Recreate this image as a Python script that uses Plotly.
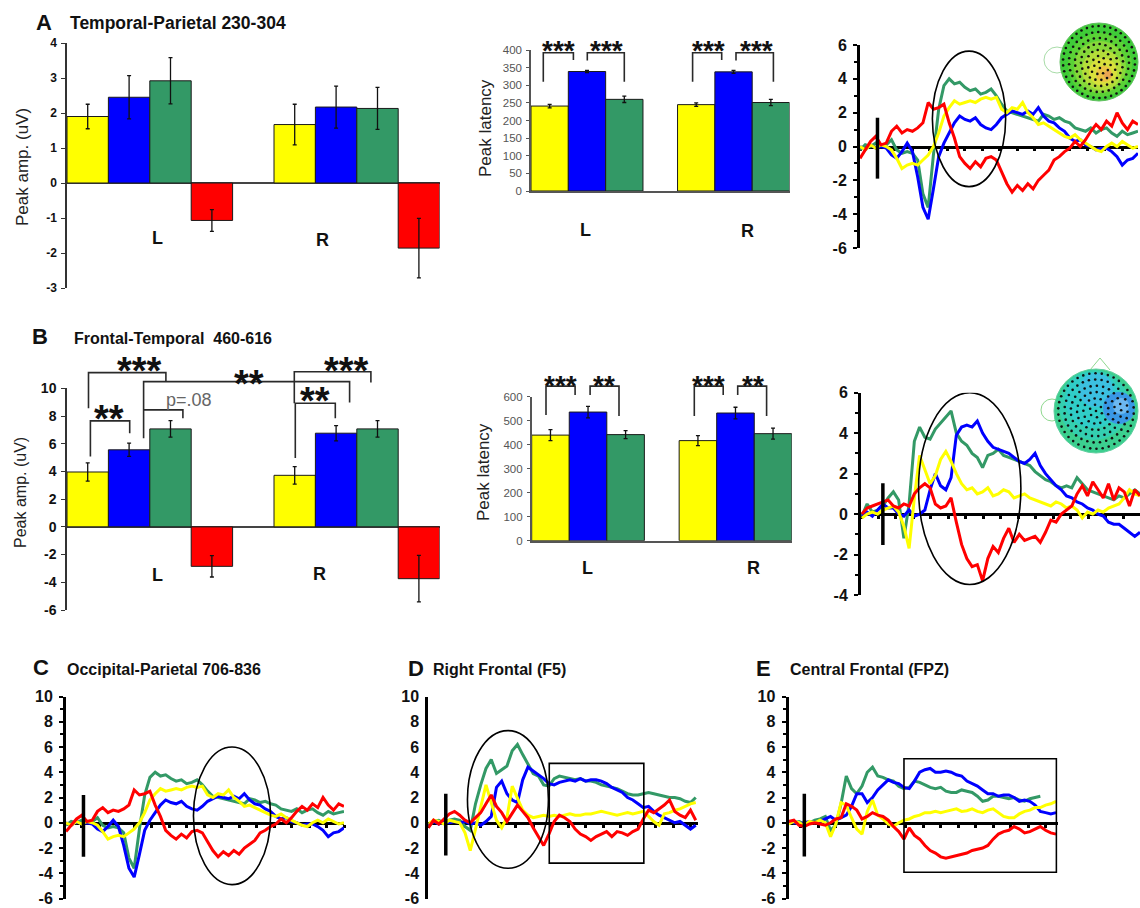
import math
import plotly.graph_objects as go

W, H = 1140, 908
FONT = "Arial, 'Liberation Sans', Helvetica, sans-serif"

# ---------------- data ----------------
COND_COLORS = ["#FFFF00", "#0000FF", "#339966", "#FF0000"]   # yellow, blue, green, red
HEMIS = ["L", "R"]

# Panel A (Temporal-Parietal 230-304)
AMP_A_L = [1.90, 2.45, 2.92, -1.07]
AMP_A_R = [1.67, 2.17, 2.13, -1.86]
AMP_A_L_ERR = [0.35, 0.62, 0.66, 0.31]
AMP_A_R_ERR = [0.58, 0.60, 0.60, 0.85]
LAT_A_L = [241, 339, 260]
LAT_A_R = [245, 338, 251]
LAT_A_L_ERR = [5, 3, 9]
LAT_A_R_ERR = [5, 4, 9]

# Panel B (Frontal-Temporal 460-616)
AMP_B_L = [3.96, 5.56, 7.07, -2.85]
AMP_B_R = [3.72, 6.76, 7.07, -3.74]
AMP_B_L_ERR = [0.66, 0.48, 0.59, 0.77]
AMP_B_R_ERR = [0.63, 0.55, 0.59, 1.68]
LAT_B_L = [440, 536, 442]
LAT_B_R = [417, 532, 446]
LAT_B_L_ERR = [23, 24, 17]
LAT_B_R_ERR = [21, 24, 23]

# Waveforms (uV), sampled every 30 ms
T_A = list(range(-100, 1491, 30))
WAVE_A_GREEN = [-0.2, 0.1, 0.0, 0.2, 0.0, 0.1, 0.4, -0.2, -0.4, -0.3,
                -0.4, -0.8, -2.8, -3.6, -0.5, 2.2, 3.6, 4.0, 3.7, 3.8,
                3.5, 3.3, 3.4, 3.1, 3.2, 3.4, 3.0, 2.5, 2.1, 2.0,
                1.9, 1.8, 1.7, 1.6, 1.5, 1.9, 1.8, 1.6, 1.7, 1.5,
                1.4, 1.1, 1.0, 0.9, 1.1, 0.8, 1.0, 1.1, 0.8, 0.6,
                0.9, 0.7, 0.8, 0.9]
WAVE_A_BLUE = [0.0, -0.2, 0.1, -0.1, 0.0, -0.1, -0.5, -0.7, -0.3, 0.2,
               -0.3, -1.8, -3.6, -4.3, -2.5, -0.6, 0.2, 0.8, 1.4, 1.8,
               1.6, 1.5, 1.7, 1.3, 1.1, 1.0, 1.3, 1.7, 1.9, 2.1,
               2.0, 1.9, 2.1, 1.9, 2.3, 1.8, 1.5, 1.4, 1.1, 0.9,
               0.5, 0.3, 0.4, 0.1, 0.0, -0.2, -0.1, -0.1, -0.3, -0.6,
               -1.1, -0.8, -0.7, -0.4]
WAVE_A_YELLOW = [0.0, -0.2, 0.1, -0.1, 0.1, 0.0, -0.2, -0.7, -1.3, -1.1,
                 -1.0, -1.1, -0.8, -0.5, 0.0, 0.8, 1.8, 2.3, 2.7, 2.5,
                 2.6, 2.7, 2.6, 2.8, 2.9, 2.8, 2.9, 2.2, 2.0, 2.3,
                 2.2, 2.6, 2.0, 1.7, 1.3, 1.4, 1.2, 1.0, 0.8, 0.6,
                 0.5, 0.7, 0.4, 0.2, 0.0, -0.2, -0.3, 0.0, 0.2, 0.0,
                 0.3, 0.1, -0.1, 0.0]
WAVE_A_RED = [-0.7, -0.2, 0.3, 0.6, 0.1, 0.2, 0.9, 1.2, 0.8, 1.0,
              0.9, 1.1, 1.4, 2.6, 2.2, 2.3, 2.5, 1.4, 0.5, -0.6,
              -1.0, -1.3, -0.9, -1.2, -0.7, -0.6, -0.8, -1.5, -2.2, -2.7,
              -2.3, -2.6, -2.2, -2.5, -2.0, -1.7, -1.4, -0.8, -0.6, -0.3,
              -0.1, 0.3, 0.0, 0.4, 0.9, 1.3, 1.0, 1.5, 1.2, 2.0,
              1.4, 1.0, 1.5, 1.3]

T_B = list(range(-120, 1471, 30))
WAVE_B_GREEN = [-0.1, 0.5, 0.1, 0.2, 0.4, 0.8, 1.1, 0.7, -1.2, 0.5,
                3.6, 4.3, 3.8, 3.7, 4.2, 4.5, 4.8, 5.1, 4.0, 3.6,
                3.4, 3.0, 2.8, 2.3, 2.9, 3.0, 3.2, 2.9, 2.8, 2.7,
                2.6, 2.5, 2.4, 2.1, 1.9, 1.7, 1.6, 1.4, 1.3, 1.4,
                1.3, 1.8, 1.5, 1.2, 1.1, 1.0, 0.9, 0.8, 0.7, 0.9,
                0.8, 1.0, 1.2, 1.0]
WAVE_B_BLUE = [-0.1, 0.1, -0.1, 0.2, 0.5, 0.3, 0.3, 0.0, -0.1, 0.2,
               -0.1, 0.0, 0.2, 1.2, 2.0, 1.4, 1.2, 1.8, 3.9, 4.3,
               4.4, 4.3, 4.6, 4.0, 3.6, 3.3, 3.2, 3.1, 3.0, 2.8,
               2.6, 2.5, 2.7, 3.0, 2.4, 2.0, 1.7, 1.4, 1.2, 0.9,
               0.8, 0.6, 0.5, 0.3, 0.2, 0.0, -0.1, -0.4, -0.5, -0.5,
               -0.7, -0.9, -1.1, -0.9]
WAVE_B_YELLOW = [-0.2, 0.0, 0.1, 0.0, 0.2, 0.3, 0.4, 0.1, -0.6, -1.7,
                 0.8, 2.9, 2.2, 1.5, 1.9, 2.7, 3.1, 2.6, 2.0, 1.5,
                 1.2, 1.3, 1.0, 1.1, 1.3, 0.9, 1.0, 1.2, 1.1, 0.8,
                 0.9, 1.0, 0.8, 0.7, 0.6, 0.5, 0.4, 0.6, 0.5, 0.3,
                 0.4, 0.2, -0.2, 0.1, 0.0, 0.2, 0.1, 0.3, 0.4, 0.5,
                 0.8, 1.2, 1.0, 0.9]
WAVE_B_RED = [0.0, 0.3, 0.4, 0.5, 0.6, 0.7, 0.4, 0.3, 0.5, 0.4,
              1.0, 1.3, 1.5, 1.3, 0.5, 0.3, 0.4, 0.8, -0.4, -1.5,
              -2.2, -2.6, -2.5, -3.3, -2.2, -1.6, -1.9, -1.2, -0.7, -1.4,
              -1.0, -1.3, -1.2, -1.1, -1.4, -0.9, -0.3, -0.4, 0.0, 0.2,
              0.4, 1.0, 1.4, 0.9, 1.6, 1.2, 0.8, 1.5, 0.7, 1.3,
              1.1, 0.4, 1.2, 0.9]

T_D = list(range(-100, 1431, 30))
WAVE_D_GREEN = [-0.3, 0.1, 0.2, 0.0, 0.2, 0.3, 0.2, -0.3, -0.6, 1.5,
                3.0, 4.3, 5.0, 3.9, 4.2, 4.5, 5.7, 6.2, 5.4, 4.7,
                3.9, 3.7, 3.0, 2.9, 3.5, 3.7, 3.6, 3.5, 3.4, 3.5,
                3.3, 3.3, 3.2, 3.0, 2.9, 2.8, 2.7, 2.5, 2.3, 2.2,
                2.2, 2.3, 2.4, 2.3, 2.2, 2.1, 2.0, 2.0, 1.9, 1.7,
                1.6, 2.0]
WAVE_D_BLUE = [-0.2, 0.1, -0.1, 0.1, 0.0, 0.1, 0.0, 0.1, -0.1, 0.0,
               -0.2, 0.1, 0.5, 2.8, 3.3, 2.3, 1.8, 1.6, 3.4, 4.4,
               4.1, 3.8, 3.5, 3.1, 3.0, 3.2, 3.3, 3.4, 3.3, 3.5,
               3.3, 3.4, 3.4, 3.3, 3.1, 2.8, 2.6, 2.4, 2.0, 1.8,
               1.5, 1.2, 1.3, 0.9, 0.6, 0.4, 0.2, 0.0, 0.1, -0.2,
               -0.5, -0.2]
WAVE_D_YELLOW = [-0.1, 0.2, 0.1, -0.1, 0.2, 0.1, 0.0, -0.8, -2.2, -0.5,
                 1.2, 3.0, 1.6, 0.2, -0.4, 0.4, 2.9, 2.0, 1.0, 0.6,
                 0.4, 0.5, 0.6, 0.5, 0.6, 0.5, 0.6, 0.7, 0.6, 0.6,
                 0.7, 0.7, 0.8, 0.9, 0.8, 0.7, 0.6, 0.7, 0.8, 0.7,
                 0.8, 0.9, 0.5, 0.1, -0.2, 0.7, 0.8, 1.0, 1.1, 1.3,
                 1.5, 1.6]
WAVE_D_RED = [-0.4, 0.2, -0.1, 0.3, 0.7, 0.9, 0.6, 0.2, 0.0, 0.4,
              0.8, 1.5, 2.2, 1.3, 0.8, 0.1, 0.8, 1.4, 0.9, 0.4,
              -0.4, -1.1, -1.8, -0.9, 0.1, 0.6, 0.4, 0.1, -0.5, -0.9,
              -1.1, -1.4, -1.1, -0.9, -0.7, -1.1, -0.7, -0.8, -1.0, -0.7,
              -0.5, 0.3, 1.0, 0.8, 1.1, 1.4, 1.8, 0.9, 0.6, 0.4,
              1.0, 0.2]

T_E = list(range(-90, 1441, 30))
WAVE_E_GREEN = [0.1, 0.0, 0.1, -0.1, 0.0, 0.2, 0.3, 0.5, -0.6, -0.2,
                1.5, 3.7, 2.7, 2.3, 2.9, 4.0, 4.4, 3.7, 3.6, 3.4,
                3.3, 2.9, 2.7, 2.8, 3.3, 3.2, 3.0, 2.8, 2.7, 2.8,
                2.5, 2.4, 2.4, 2.6, 2.5, 2.4, 2.1, 1.7, 1.8, 2.1,
                2.1, 2.0, 1.9, 2.0, 1.8, 1.7, 1.9, 2.0, 2.1, None,
                None, None]
WAVE_E_BLUE = [0.1, 0.0, -0.1, 0.0, 0.1, 0.0, 0.1, 0.3, 0.5, 0.2,
               0.4, 0.6, 1.3, 2.3, 2.3, 1.6, 2.0, 2.6, 3.0, 3.4,
               3.2, 3.1, 2.8, 2.7, 3.3, 4.0, 4.2, 4.3, 4.0, 4.0,
               4.1, 4.0, 3.8, 3.7, 3.3, 3.1, 2.9, 2.6, 2.3, 2.3,
               2.1, 2.2, 2.2, 2.0, 1.7, 1.8, 1.7, 1.4, 0.9, 0.8,
               0.7, 0.8]
WAVE_E_YELLOW = [-0.1, 0.1, 0.0, -0.2, 0.1, 0.0, 0.2, 0.0, -1.1, -0.1,
                 1.6, 1.4, 0.4, -0.5, -0.9, 0.9, 1.8, 0.6, 0.3, -0.1,
                 -0.3, 0.0, 0.2, 0.3, 0.5, 0.6, 0.8, 0.8, 0.9, 0.8,
                 0.9, 1.0, 1.1, 0.9, 0.95, 1.1, 0.9, 0.8, 1.0, 1.1,
                 0.8, 0.5, 0.4, 0.4, 0.7, 0.9, 1.0, 1.2, 1.2, 1.4,
                 1.5, 1.7]
WAVE_E_RED = [0.1, 0.2, -0.2, -0.3, -0.1, 0.0, -0.1, -0.2, 0.0, 0.3,
              0.4, 1.5, 1.3, 1.0, 0.3, 0.5, 0.8, 0.6, 0.5, 0.2,
              -0.3, -0.7, -1.3, -0.4, -1.0, -1.3, -1.8, -2.2, -2.4, -2.7,
              -2.8, -2.7, -2.6, -2.5, -2.4, -2.2, -2.1, -2.0, -1.8, -1.3,
              -0.9, -0.7, -0.6, -0.3, -0.5, -0.8, -0.7, -0.5, -0.3, -0.6,
              -0.8, -0.9]

# ---------------- layout geometry (pixels) ----------------
PANELS = {
    1: dict(px=(67, 439.6), py=(43, 288), xr=(-0.4, 1.4), yr=(-3, 4)),
    2: dict(px=(531, 789.5), py=(50, 191), xr=(-0.382, 1.382), yr=(0, 400)),
    3: dict(px=(860, 1138), py=(45, 248), xr=(-100, 1490), yr=(-6, 6)),
    4: dict(px=(67, 439.6), py=(388.3, 610), xr=(-0.4, 1.4), yr=(-6, 10)),
    5: dict(px=(531.7, 791.8), py=(396.7, 540.7), xr=(-0.382, 1.382), yr=(0, 600)),
    6: dict(px=(861, 1140), py=(392.7, 595), xr=(-125, 1470), yr=(-4, 6)),
    7: dict(px=(66, 344), py=(696.5, 898.5), xr=(-100, 1490), yr=(-6, 10)),
    8: dict(px=(428.3, 697.5), py=(696.5, 898.5), xr=(-100, 1440), yr=(-6, 10)),
    9: dict(px=(788.6, 1057.8), py=(696.5, 898.5), xr=(-90, 1450), yr=(-6, 10)),
}


def to_px(p, x, y):
    P = PANELS[p]
    (a, b), (t, btm) = P["px"], P["py"]
    (x0, x1), (y0, y1) = P["xr"], P["yr"]
    return (a + (x - x0) / (x1 - x0) * (b - a),
            btm - (y - y0) / (y1 - y0) * (btm - t))


def ticks_for(p, step):
    lo, hi = PANELS[p]["yr"]
    vals = list(range(int(lo), int(hi) + 1, step))
    return vals, [f"{v:d}" for v in vals]


fig = go.Figure()


def add_bars(p, Ls, Rs, Le, Re, n, width, off0):
    for i in range(n):
        fig.add_trace(go.Bar(
            x=[0, 1], y=[Ls[i], Rs[i]], width=width, offset=off0 + i * width,
            marker=dict(color=COND_COLORS[i], line=dict(color="#1a1a1a", width=1)),
            error_y=dict(type="data", array=[Le[i], Re[i]], visible=True,
                         color="#111", thickness=1.3, width=2),
            xaxis=f"x{p}", yaxis=f"y{p}", showlegend=False, hoverinfo="skip"))


add_bars(1, AMP_A_L, AMP_A_R, AMP_A_L_ERR, AMP_A_R_ERR, 4, 0.2, -0.4)
add_bars(2, LAT_A_L, LAT_A_R, LAT_A_L_ERR, LAT_A_R_ERR, 3, 0.2547, -0.382)
add_bars(4, AMP_B_L, AMP_B_R, AMP_B_L_ERR, AMP_B_R_ERR, 4, 0.2, -0.4)
add_bars(5, LAT_B_L, LAT_B_R, LAT_B_L_ERR, LAT_B_R_ERR, 3, 0.2547, -0.382)


def add_wave(p, T, green, blue, yellow, red):
    for vals, col in ((green, COND_COLORS[2]), (blue, COND_COLORS[1]),
                      (yellow, COND_COLORS[0]), (red, COND_COLORS[3])):
        fig.add_trace(go.Scatter(
            x=T[:len(vals)], y=vals, mode="lines",
            line=dict(color=col, width=3), connectgaps=False,
            xaxis=f"x{p}", yaxis=f"y{p}", showlegend=False, hoverinfo="skip"))


add_wave(3, T_A, WAVE_A_GREEN, WAVE_A_BLUE, WAVE_A_YELLOW, WAVE_A_RED)
add_wave(6, T_B, WAVE_B_GREEN, WAVE_B_BLUE, WAVE_B_YELLOW, WAVE_B_RED)
add_wave(7, T_A, WAVE_A_GREEN, WAVE_A_BLUE, WAVE_A_YELLOW, WAVE_A_RED)
add_wave(8, T_D, WAVE_D_GREEN, WAVE_D_BLUE, WAVE_D_YELLOW, WAVE_D_RED)
add_wave(9, T_E, WAVE_E_GREEN, WAVE_E_BLUE, WAVE_E_YELLOW, WAVE_E_RED)

# ---------------- axes ----------------
layout = {}
for p, P in PANELS.items():
    xd = [P["px"][0] / W, P["px"][1] / W]
    yd = [1 - P["py"][1] / H, 1 - P["py"][0] / H]
    layout[f"xaxis{p}"] = dict(domain=xd, range=list(P["xr"]), anchor=f"y{p}",
                               showgrid=False, zeroline=False, showticklabels=False,
                               ticks="", fixedrange=True)
    layout[f"yaxis{p}"] = dict(domain=yd, range=list(P["yr"]), anchor=f"x{p}",
                               showgrid=False, zeroline=False, fixedrange=True)

# amplitude bar panels
for p, dt, fs in ((1, 1, 12), (4, 2, 14)):
    tv, tt = ticks_for(p, dt)
    layout[f"xaxis{p}"].update(visible=False)
    layout[f"yaxis{p}"].update(showline=True, linecolor="#333", linewidth=1.5,
                               ticks="outside", ticklen=4, tickcolor="#333",
                               tickmode="array", tickvals=tv, ticktext=tt,
                               zeroline=True, zerolinecolor="#444", zerolinewidth=1.5,
                               ticklabelstandoff=2,
                               tickfont=dict(family=FONT, size=fs, color="#111", weight="bold"))
# latency bar panels
for p, dt in ((2, 50), (5, 100)):
    tv, tt = ticks_for(p, dt)
    layout[f"xaxis{p}"].update(showline=True, linecolor="#555", linewidth=2)
    layout[f"yaxis{p}"].update(showline=True, linecolor="#555", linewidth=1.5,
                               ticks="outside", ticklen=3, tickcolor="#555",
                               tickmode="array", tickvals=tv, ticktext=tt,
                               ticklabelstandoff=2,
                               tickfont=dict(family=FONT, size=11.5, color="#555"))
# waveform panels
WAVE_TICK0 = {3: 0, 6: 75, 7: 90, 8: 0, 9: 80}
for p in (3, 6, 7, 8, 9):
    y0px = to_px(p, 0, 0)[1]
    layout[f"xaxis{p}"].update(anchor="free", position=1 - y0px / H, showline=True,
                               linecolor="black", linewidth=2.5, ticks="outside",
                               ticklen=3, tickwidth=3, tickcolor="black",
                               tick0=WAVE_TICK0[p], dtick=100, layer="below traces")
    tv, tt = ticks_for(p, 2)
    mv, _ = ticks_for(p, 1)
    ya = dict(showline=True, linecolor="black", linewidth=3,
              tickmode="array", tickvals=tv, ticktext=tt,
              tickfont=dict(family=FONT, size=16, color="#111", weight="bold"),
              ticklabelstandoff=3)
    if p != 8:
        ya.update(ticks="outside", ticklen=4, tickwidth=2, tickcolor="black",
                  minor=dict(tickmode="array", tickvals=mv, ticks="outside", ticklen=3,
                             tickwidth=2, tickcolor="black", showgrid=False))
    else:
        ya.update(ticks="")
    layout[f"yaxis{p}"].update(**ya)

# overlay pixel-space axis for decorations / text
layout["xaxis10"] = dict(domain=[0, 1], range=[0, W], anchor="y10", visible=False, fixedrange=True)
layout["yaxis10"] = dict(domain=[0, 1], range=[H, 0], anchor="x10", visible=False, fixedrange=True)

shapes = []
annotations = []


def txt(x, y, s, size, bold=False, color="#111", xanchor="center", angle=0):
    annotations.append(dict(
        x=x, y=y, xref="x10", yref="y10", text=s, showarrow=False,
        xanchor=xanchor, yanchor="middle", textangle=angle,
        font=dict(family=FONT, size=size, color=color, weight="bold" if bold else "normal")))


# panel letters and titles
for letter, lx, ly, title, tx, ty, tsz in (
        ("A", 44, 22, "Temporal-Parietal 230-304", 68, 23, 17.5),
        ("B", 40, 336, "Frontal-Temporal  460-616", 72, 338, 16),
        ("C", 41, 667, "Occipital-Parietal 706-836", 65, 669, 16),
        ("D", 416, 668, "Right Frontal (F5)", 431, 669, 16),
        ("E", 763, 668, "Central Frontal (FPZ)", 788, 669, 16)):
    txt(lx, ly, letter, 22, bold=True)
    txt(tx, ty, title, tsz, bold=True, xanchor="left")

# axis titles
txt(22, 167, "Peak amp. (uV)", 17, color="#222", angle=-90)
txt(20, 493, "Peak amp. (uV)", 16, color="#222", angle=-90)
txt(485, 128, "Peak latency", 17, color="#222", angle=-90)
txt(483, 472, "Peak latency", 17, color="#222", angle=-90)

# hemisphere labels
for (x, y), lab in zip(((157, 238), (322, 240)), HEMIS):
    txt(x, y, lab, 18, bold=True)
for (x, y), lab in zip(((157, 575), (319, 574)), HEMIS):
    txt(x, y, lab, 18, bold=True)
for (x, y), lab in zip(((585, 230), (747, 231)), HEMIS):
    txt(x, y, lab, 18, bold=True)
for (x, y), lab in zip(((587, 568), (753, 568)), HEMIS):
    txt(x, y, lab, 18, bold=True)

# significance brackets: panel, x_left, x_right, y_left_end, y_right_end, y_top
BRACKETS = [
    (2, -0.298, -0.093, 310, 372, 392), (2, 0.002, 0.255, 370, 310, 392),
    (2, 0.721, 0.919, 310, 372, 392), (2, 1.017, 1.272, 370, 310, 392),
    (5, -0.285, -0.088, 524, 607, 644), (5, 0.014, 0.21, 607, 519, 644),
    (5, 0.721, 0.917, 519, 607, 644), (5, 1.015, 1.211, 607, 519, 644),
    (4, -0.296, 0.078, 8.56, 10.48, 11.13), (4, -0.03, 0.965, 6.40, 8.97, 10.48),
    (4, -0.287, -0.097, 5.08, 6.76, 7.65), (4, -0.03, 0.16, 8.44, 7.84, 8.44),
    (4, 0.698, 1.068, 8.92, 10.41, 11.2), (4, 0.703, 0.896, 4.96, 7.84, 8.92),
]
for p, xl, xr, yl, yr, yt in BRACKETS:
    ax, ayl = to_px(p, xl, yl)
    bx, ayr = to_px(p, xr, yr)
    _, at = to_px(p, xl, yt)
    shapes.append(dict(type="path", xref="x10", yref="y10",
                       path=f"M {ax:.1f} {ayl:.1f} L {ax:.1f} {at:.1f} L {bx:.1f} {at:.1f} L {bx:.1f} {ayr:.1f}",
                       line=dict(color="#2a2a2a", width=1.6), layer="above"))

STARS = [
    (2, -0.196, 414, "***", 28), (2, 0.134, 414, "***", 28),
    (2, 0.828, 414, "***", 28), (2, 1.158, 414, "***", 28),
    (5, -0.19, 669, "***", 28), (5, 0.108, 669, "**", 28),
    (5, 0.816, 669, "***", 28), (5, 1.116, 669, "**", 28),
    (4, -0.05, 11.8, "***", 38), (4, 0.477, 10.84, "**", 38),
    (4, 0.948, 11.8, "***", 38), (4, -0.199, 8.31, "**", 38),
    (4, 0.8, 9.64, "**", 38),
]
for p, x, y, s, fs in STARS:
    X, Y = to_px(p, x, y)
    txt(X, Y + 0.2 * fs, s, fs, bold=True, color="#111")
X, Y = to_px(4, 0.187, 9.16)
txt(X, Y, "p=.08", 18, color="#666")

# stimulus-onset bars, ellipses and rectangles (data coordinates)
ONSET = {3: (-1.9, 1.7), 6: (-1.53, 1.52), 7: (-2.7, 2.2), 8: (-2.6, 2.3), 9: (-2.67, 2.3)}
for p, (lo, hi) in ONSET.items():
    shapes.append(dict(type="line", xref=f"x{p}", yref=f"y{p}", x0=0, x1=0, y0=lo, y1=hi,
                       line=dict(color="black", width=3.5), layer="above"))
ELLIPSES = {3: (314, 733, -2.37, 5.64), 6: (204, 789, -3.48, 6.0),
            7: (629, 1070, -4.9, 6.0), 8: (124, 587, -3.6, 7.3)}
for p, (x0, x1, y0, y1) in ELLIPSES.items():
    shapes.append(dict(type="circle", xref=f"x{p}", yref=f"y{p}", x0=x0, x1=x1, y0=y0, y1=y1,
                       line=dict(color="black", width=1.6), layer="above"))
RECTS = {8: (592, 1133, -3.2, 4.7), 9: (570, 1442, -3.92, 5.07)}
for p, (x0, x1, y0, y1) in RECTS.items():
    shapes.append(dict(type="rect", xref=f"x{p}", yref=f"y{p}", x0=x0, x1=x1, y0=y0, y1=y1,
                       line=dict(color="black", width=1.6), layer="above"))


# ---------------- scalp maps (decorative insets) ----------------
def circ(cx, cy, r, fill=None, line=None, lw=0):
    shapes.append(dict(type="circle", xref="x10", yref="y10",
                       x0=cx - r, x1=cx + r, y0=cy - r, y1=cy + r,
                       fillcolor=fill if fill else "rgba(0,0,0,0)",
                       line=dict(color=line if line else "rgba(0,0,0,0)", width=lw),
                       layer="below"))


def electrodes(cx, cy, r, spacing):
    xs, ys = [], []
    ring = 0
    while ring * spacing <= r:
        rr = ring * spacing
        n = 1 if ring == 0 else int(round(2 * math.pi * rr / spacing))
        for k in range(n):
            ang = 2 * math.pi * k / n + ring * 0.37
            xs.append(cx + rr * math.cos(ang))
            ys.append(cy + rr * math.sin(ang))
        ring += 1
    return xs, ys


# head A
circ(1057, 60, 13, line="#a8dca8", lw=1)
circ(1099, 62, 39, fill="#3fcc38", line="#5fbf5f", lw=1)
circ(1100, 65, 32, fill="#5ad236")
circ(1100, 67, 26, fill="#86d83a")
circ(1102, 70, 20, fill="#b4de3a")
circ(1103, 72, 14, fill="#d8e03c")
circ(1104, 74, 8, fill="#ecc445")
circ(1108, 75, 4, fill="#eaa552")
# head B
shapes.append(dict(type="path", xref="x10", yref="y10",
                   path="M 1090 370 L 1100 358 L 1110 370", line=dict(color="#8fd88f", width=1),
                   layer="below"))
circ(1052, 410, 11, line="#8fd88f", lw=1)
circ(1096, 411, 42, fill="#3ccf8f", line="#5fcf9f", lw=1)
circ(1094, 405, 35, fill="#34cfb0")
circ(1093, 400, 28, fill="#30cdc8")
circ(1096, 390, 17, fill="#3cc0e0")
circ(1119, 408, 16, fill="#3a98e6")
circ(1121, 406, 8, fill="#6cb8f0")

dx, dy = [], []
for cx, cy, r, sp in ((1099, 62, 36, 6.0), (1096, 411, 38, 6.3)):
    a, b = electrodes(cx, cy, r, sp)
    dx += a
    dy += b
fig.add_trace(go.Scatter(x=dx, y=dy, mode="markers", xaxis="x10", yaxis="y10",
                         marker=dict(color="#111", size=2.6), showlegend=False,
                         hoverinfo="skip"))

fig.update_layout(
    width=W, height=H, margin=dict(l=0, r=0, t=0, b=0, autoexpand=False),
    autosize=False,
    paper_bgcolor="white", plot_bgcolor="rgba(0,0,0,0)",
    showlegend=False, barmode="overlay", font=dict(family=FONT),
    shapes=shapes, annotations=annotations, **layout)

fig.write_html(
    "out.html",
    config={"responsive": False, "displayModeBar": False},
    post_script="document.body.style.margin='0';document.body.style.padding='0';"
                "document.body.style.overflow='hidden';")
